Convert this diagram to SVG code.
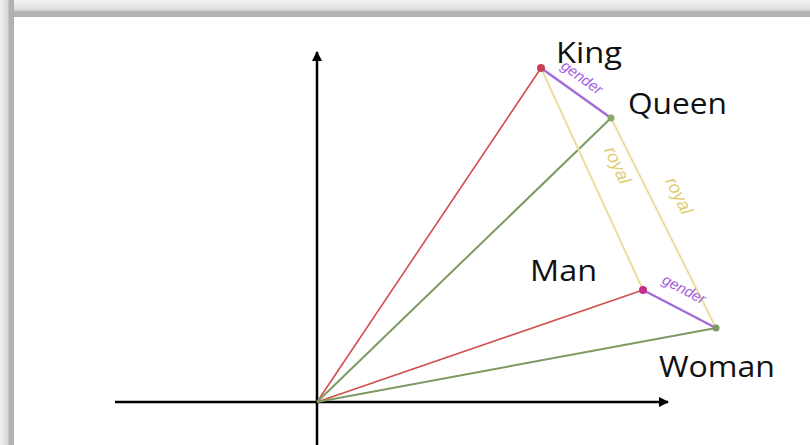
<svg xmlns="http://www.w3.org/2000/svg" width="810" height="445" viewBox="0 0 810 445">
<defs>
<linearGradient id="gt" x1="0" y1="0" x2="0" y2="1">
<stop offset="0" stop-color="#f2f2f2"/><stop offset="0.55" stop-color="#dedede"/><stop offset="0.7" stop-color="#b4b4b4"/><stop offset="1" stop-color="#b0b0b0"/>
</linearGradient>
<linearGradient id="gl" x1="0" y1="0" x2="1" y2="0">
<stop offset="0" stop-color="#f0f0f0"/><stop offset="0.55" stop-color="#d8d8d8"/><stop offset="0.65" stop-color="#b4b4b4"/><stop offset="1" stop-color="#b0b0b0"/>
</linearGradient>
<marker id="ah" markerWidth="10" markerHeight="10" refX="9" refY="5" orient="auto" markerUnits="userSpaceOnUse" viewBox="0 0 10 10">
<path d="M0,0 L10,5 L0,10 z" fill="#000"/>
</marker>
<style>
.axis{stroke:#000;stroke-width:2.5;fill:none}
.red{stroke:#d0504a;stroke-width:1.6;fill:none}
.green{stroke:#7d9a62;stroke-width:2;fill:none}
.royal{stroke:#ecdf9e;stroke-width:2;fill:none}
.gender{stroke:#a46bd8;stroke-width:2.5;fill:none}
.lbl{font-family:"Open Sans","Liberation Sans",sans-serif;font-size:30px;fill:#111}
.gtx{font-family:"Liberation Sans",sans-serif;font-style:italic;font-size:15px;fill:#a35ee0}
.rtx{font-family:"Liberation Sans",sans-serif;font-style:italic;font-size:18px;fill:#e0cc70}
</style>
</defs>
<rect width="810" height="445" fill="#fff"/>
<rect x="0" y="0" width="810" height="17" fill="url(#gt)"/>
<rect x="0" y="0" width="14" height="445" fill="url(#gl)"/>
<g id="connectors">
<line class="axis" x1="317" y1="445" x2="317" y2="52" marker-end="url(#ah)"/>
<line class="axis" x1="115" y1="402" x2="668" y2="402" marker-end="url(#ah)"/>
<line class="red" x1="317" y1="402" x2="541" y2="68"/>
<line class="green" x1="317" y1="402" x2="611" y2="118"/>
<line class="red" x1="317" y1="402" x2="643" y2="290"/>
<line class="green" x1="317" y1="402" x2="716" y2="328"/>
<line class="royal" x1="541" y1="68" x2="643" y2="290"/>
<line class="royal" x1="611" y1="118" x2="716" y2="328"/>
<line class="gender" x1="541" y1="68" x2="611" y2="118"/>
<line class="gender" x1="643" y1="290" x2="716" y2="328"/>
<text class="gtx" transform="translate(560,68) rotate(35.5)">gender</text>
<text class="gtx" transform="translate(661,283) rotate(27.5)">gender</text>
<text class="rtx" transform="translate(604,150) rotate(65.3)">royal</text>
<text class="rtx" transform="translate(665,181) rotate(63.4)">royal</text>
</g>
<g id="king">
<circle cx="541" cy="68" r="4" fill="#c8405a"/>
<text class="lbl" x="556" y="63" textLength="66" lengthAdjust="spacingAndGlyphs">King</text>
</g>
<g id="queen">
<circle cx="611" cy="118" r="3.5" fill="#8aa86a"/>
<text class="lbl" x="628" y="114" textLength="99" lengthAdjust="spacingAndGlyphs">Queen</text>
</g>
<g id="man">
<circle cx="643" cy="290" r="4" fill="#c0308a"/>
<text class="lbl" x="530" y="281" textLength="67" lengthAdjust="spacingAndGlyphs">Man</text>
</g>
<g id="woman">
<circle cx="716" cy="328" r="3.5" fill="#7d9a62"/>
<text class="lbl" x="659" y="377" textLength="116" lengthAdjust="spacingAndGlyphs">Woman</text>
</g>
</svg>
